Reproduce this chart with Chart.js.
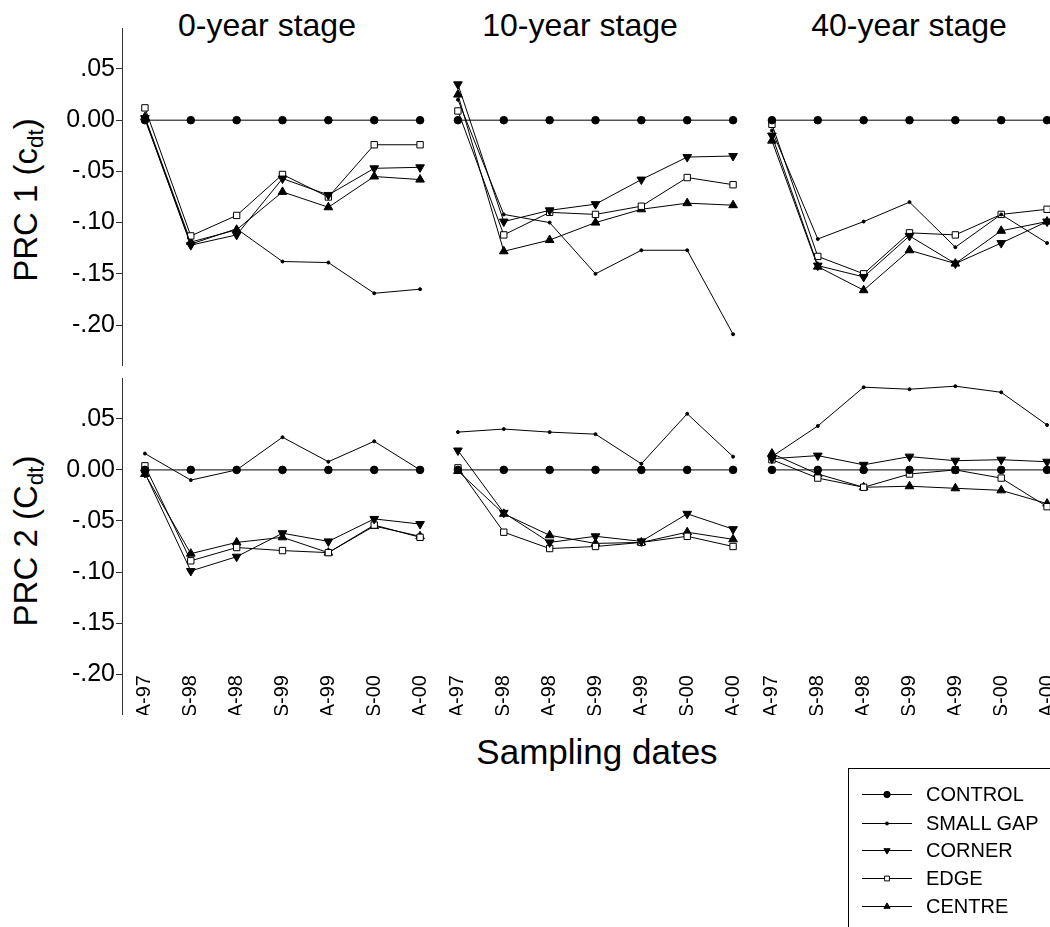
<!DOCTYPE html>
<html>
<head>
<meta charset="utf-8">
<script src="https://cdn.jsdelivr.net/npm/chart.js@4/dist/chart.umd.min.js"></script>
<style>
html,body{margin:0;padding:0;background:#fff;overflow:hidden;width:1050px;height:927px;}
#wrap{position:relative;width:1050px;height:927px;overflow:hidden;font-family:"Liberation Sans",Arial,Helvetica,sans-serif;color:#000;}
.panel{position:absolute;}
.txt{position:absolute;white-space:nowrap;line-height:1;}
.txt sub{font-size:0.68em;vertical-align:-0.28em;line-height:1;}
#legend{position:absolute;left:848px;top:768px;width:260px;height:220px;border-left:1px solid #000;border-top:1px solid #000;}
.lrow{position:absolute;left:0;height:28px;display:flex;align-items:center;font-size:20px;}
</style>
</head>
<body>
<div id="wrap">
  <div class="txt" id="t0" style="font-size:32px;top:9px;left:267px;transform:translateX(-50%);"></div>
  <div class="txt" id="t1" style="font-size:32px;top:9px;left:580px;transform:translateX(-50%);"></div>
  <div class="txt" id="t2" style="font-size:32px;top:9px;left:909px;transform:translateX(-50%);"></div>
  <div class="txt" style="font-size:33px;left:28px;top:200px;transform:translate(-50%,-50%) rotate(-90deg);">PRC 1 (c<sub>dt</sub>)</div>
  <div class="txt" style="font-size:33px;left:28px;top:541px;transform:translate(-50%,-50%) rotate(-90deg);">PRC 2 (C<sub>dt</sub>)</div>
  <div class="txt" id="xtitle" style="font-size:35px;top:734px;left:597px;transform:translateX(-50%);"></div>
  <div id="legend"></div>
</div>
<script>
// ---------- data ----------
const dates = ['A-97','S-98','A-98','S-99','A-99','S-00','A-00'];
const stages = ['0-year stage','10-year stage','40-year stage'];
const seriesNames = ['CONTROL','SMALL GAP','CORNER','EDGE','CENTRE'];
const yTickValues = [0.05, 0, -0.05, -0.10, -0.15, -0.20];
const xAxisTitle = 'Sampling dates';

// PRC 1 (c_dt)
const prc1_control     = [0, 0, 0, 0, 0, 0, 0];
const prc1_0_smallgap  = [0.001, -0.121, -0.106, -0.138, -0.139, -0.169, -0.165];
const prc1_0_corner    = [0.002, -0.122, -0.112, -0.057, -0.073, -0.047, -0.046];
const prc1_0_edge      = [0.012, -0.113, -0.093, -0.053, -0.075, -0.024, -0.024];
const prc1_0_centre    = [0.003, -0.119, -0.107, -0.070, -0.085, -0.055, -0.058];

const prc1_10_smallgap = [0.020, -0.092, -0.100, -0.150, -0.127, -0.127, -0.209];
const prc1_10_corner   = [0.035, -0.099, -0.088, -0.082, -0.058, -0.036, -0.035];
const prc1_10_edge     = [0.009, -0.112, -0.090, -0.092, -0.084, -0.056, -0.063];
const prc1_10_centre   = [0.025, -0.128, -0.117, -0.100, -0.087, -0.081, -0.083];

const prc1_40_smallgap = [-0.010, -0.116, -0.099, -0.080, -0.124, -0.092, -0.120];
const prc1_40_corner   = [-0.015, -0.142, -0.153, -0.113, -0.140, -0.120, -0.099];
const prc1_40_edge     = [-0.004, -0.133, -0.150, -0.110, -0.112, -0.092, -0.087];
const prc1_40_centre   = [-0.020, -0.143, -0.166, -0.127, -0.140, -0.108, -0.099];

// PRC 2 (C_dt)
const prc2_control     = [0, 0, 0, 0, 0, 0, 0];
const prc2_0_smallgap  = [0.016, -0.010, 0.000, 0.032, 0.008, 0.028, 0.000];
const prc2_0_corner    = [-0.003, -0.099, -0.085, -0.062, -0.070, -0.048, -0.053];
const prc2_0_edge      = [0.004, -0.089, -0.076, -0.079, -0.081, -0.054, -0.066];
const prc2_0_centre    = [-0.004, -0.082, -0.071, -0.066, -0.081, -0.055, -0.065];

const prc2_10_smallgap = [0.037, 0.040, 0.037, 0.035, 0.006, 0.055, 0.013];
const prc2_10_corner   = [0.019, -0.042, -0.071, -0.065, -0.070, -0.043, -0.058];
const prc2_10_edge     = [0.002, -0.061, -0.077, -0.075, -0.071, -0.065, -0.075];
const prc2_10_centre   = [-0.001, -0.043, -0.064, -0.072, -0.071, -0.061, -0.068];

const prc2_40_smallgap = [0.013, 0.043, 0.081, 0.079, 0.082, 0.076, 0.044];
const prc2_40_corner   = [0.011, 0.014, 0.005, 0.013, 0.009, 0.010, 0.008];
const prc2_40_edge     = [0.010, -0.008, -0.017, -0.004, 0.000, -0.008, -0.036];
const prc2_40_centre   = [0.016, -0.004, -0.017, -0.016, -0.018, -0.020, -0.033];

// ---------- layout / style ----------
const FONT = '"Liberation Sans", Arial, Helvetica, sans-serif';
const Y_MIN = -0.24, Y_MAX = 0.09;
const X_LABEL_AT = -0.193;
const ROW_TOP = [28, 378], ROW_H = [338, 337];
const COL_LEFT = [0, 435, 749], COL_W = [443, 321, 321];
const AXIS_W = 122;

const STYLES = [
  {pointStyle:'circle',   pointRadius:3.8, pointRotation:0,   fill:'#000', lr:3.2},
  {pointStyle:'circle',   pointRadius:1.5, pointRotation:0,   fill:'#000', lr:1.5},
  {pointStyle:'triangle', pointRadius:5,   pointRotation:180, fill:'#000', lr:3.6},
  {pointStyle:'rect',     pointRadius:4.5, pointRotation:0,   fill:'#fff', lr:3.4},
  {pointStyle:'triangle', pointRadius:5,   pointRotation:0,   fill:'#000', lr:3.6}
];

const panels = [
  [[prc1_control, prc1_0_smallgap, prc1_0_corner, prc1_0_edge, prc1_0_centre],
   [prc1_control, prc1_10_smallgap, prc1_10_corner, prc1_10_edge, prc1_10_centre],
   [prc1_control, prc1_40_smallgap, prc1_40_corner, prc1_40_edge, prc1_40_centre]],
  [[prc2_control, prc2_0_smallgap, prc2_0_corner, prc2_0_edge, prc2_0_centre],
   [prc2_control, prc2_10_smallgap, prc2_10_corner, prc2_10_edge, prc2_10_centre],
   [prc2_control, prc2_40_smallgap, prc2_40_corner, prc2_40_edge, prc2_40_centre]]
];

function fmtTick(v) {
  if (Math.abs(v) < 1e-9) return '0.00';
  return (v < 0 ? '-' : '') + Math.abs(v).toFixed(2).replace(/^0/, '');
}

const wrap = document.getElementById('wrap');
stages.forEach((s, i) => { document.getElementById('t' + i).textContent = s; });
document.getElementById('xtitle').textContent = xAxisTitle;

function makePanel(row, col, seriesData) {
  const div = document.createElement('div');
  div.className = 'panel';
  div.style.left = COL_LEFT[col] + 'px';
  div.style.top = ROW_TOP[row] + 'px';
  div.style.width = COL_W[col] + 'px';
  div.style.height = ROW_H[row] + 'px';
  const cv = document.createElement('canvas');
  div.appendChild(cv);
  wrap.appendChild(div);

  const datasets = seriesNames.map((name, k) => ({
    label: name,
    data: seriesData[k],
    borderColor: '#000',
    borderWidth: 1,
    tension: 0,
    fill: false,
    clip: false,
    pointStyle: STYLES[k].pointStyle,
    pointRadius: STYLES[k].pointRadius,
    pointHoverRadius: STYLES[k].pointRadius,
    pointRotation: STYLES[k].pointRotation,
    pointBackgroundColor: STYLES[k].fill,
    pointBorderColor: '#000',
    pointBorderWidth: 1
  }));

  const showY = col === 0;
  new Chart(cv, {
    type: 'line',
    data: { labels: dates, datasets },
    options: {
      responsive: true,
      maintainAspectRatio: false,
      animation: false,
      layout: { padding: 0, autoPadding: false },
      plugins: { legend: { display: false }, title: { display: false }, tooltip: { enabled: false } },
      events: [],
      scales: {
        x: {
          type: 'category',
          offset: true,
          display: row === 1,
          position: row === 1 ? { y: X_LABEL_AT } : 'bottom',
          grid: { display: false },
          border: { display: false },
          ticks: { autoSkip: false, minRotation: 90, maxRotation: 90, padding: 0, color: '#000',
                   font: { family: FONT, size: 20 } },
          afterFit: (s) => { s.paddingLeft = 0; s.paddingRight = 0; s.paddingTop = 0; s.paddingBottom = 0; }
        },
        y: {
          type: 'linear',
          min: Y_MIN, max: Y_MAX,
          display: showY,
          grid: { drawOnChartArea: false, drawTicks: true, tickLength: 6, color: '#333', lineWidth: 1 },
          border: { display: true, color: '#333', width: 1 },
          ticks: { padding: 1, color: '#000', font: { family: FONT, size: 25 }, callback: (v) => fmtTick(v) },
          afterBuildTicks: (s) => { s.ticks = yTickValues.map(v => ({ value: v })); },
          afterFit: (s) => {
            if (showY) { s.width = AXIS_W; } else { s.width = 0; }
            s.paddingTop = 0; s.paddingBottom = 0;
          }
        }
      }
    }
  });
}

for (let r = 0; r < 2; r++) for (let c = 0; c < 3; c++) makePanel(r, c, panels[r][c]);

// ---------- legend ----------
const legend = document.getElementById('legend');
const LEG_ROW_CENTER = [25, 54, 81, 109, 137];
seriesNames.forEach((name, k) => {
  const row = document.createElement('div');
  row.className = 'lrow';
  row.style.top = (LEG_ROW_CENTER[k] - 14) + 'px';
  row.style.left = '13px';
  const cv = document.createElement('canvas');
  cv.width = 50; cv.height = 20;
  cv.style.width = '50px'; cv.style.height = '20px';
  cv.style.marginRight = '14px';
  row.appendChild(cv);
  const sp = document.createElement('span');
  sp.textContent = name;
  row.appendChild(sp);
  legend.appendChild(row);
  const ctx = cv.getContext('2d');
  ctx.strokeStyle = '#000';
  ctx.lineWidth = 1;
  ctx.beginPath(); ctx.moveTo(0, 10.5); ctx.lineTo(50, 10.5); ctx.stroke();
  ctx.fillStyle = STYLES[k].fill;
  const opts = { pointStyle: STYLES[k].pointStyle, radius: STYLES[k].lr, rotation: STYLES[k].pointRotation, borderWidth: 1 };
  if (Chart.helpers && Chart.helpers.drawPoint) {
    Chart.helpers.drawPoint(ctx, opts, 25, 10.5);
  } else {
    ctx.beginPath(); ctx.arc(25, 10.5, STYLES[k].lr, 0, Math.PI * 2); ctx.fill(); ctx.stroke();
  }
});
</script>
</body>
</html>
